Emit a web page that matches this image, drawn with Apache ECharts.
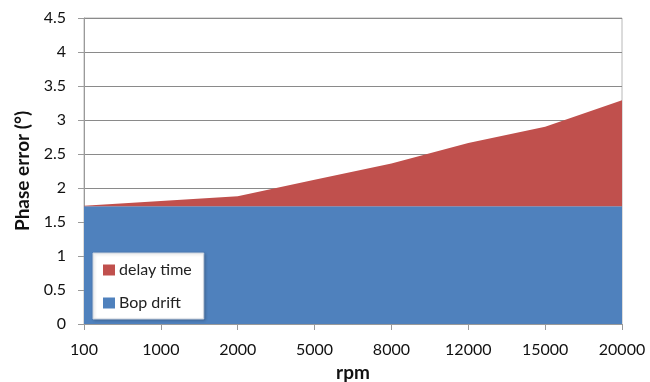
<!DOCTYPE html>
<html><head><meta charset="utf-8">
<script src="https://cdn.jsdelivr.net/npm/echarts@6/dist/echarts.min.js"></script>
<style>html,body{margin:0;padding:0;background:#fff}#c{width:650px;height:382px}</style>
</head><body><div id="c"></div>
<script>
const categories = ['100','1000','2000','5000','8000','12000','15000','20000'];
const bopDrift = [1.73,1.73,1.73,1.73,1.73,1.73,1.73,1.73];
const delayTime = [0.01,0.08,0.15,0.39,0.63,0.93,1.17,1.56];
const yTicks = {min:0, max:4.5, interval:0.5};
const font = 'Lato, "Open Sans", sans-serif';
const chart = echarts.init(document.getElementById('c'));
chart.setOption({
  animation:false,
  grid:{left:84,right:28,top:18,bottom:58,containLabel:false,outerBoundsMode:'none',show:true,borderColor:'#b8b8b8',borderWidth:1,backgroundColor:'transparent'},
  legend:{
    orient:'vertical',left:93,top:253,
    padding:[8,12,7,10],itemGap:15,itemWidth:12,itemHeight:11,
    backgroundColor:'#fff',borderColor:'#c8d0dc',borderWidth:1,
    shadowColor:'rgba(0,0,0,0.2)',shadowBlur:3,shadowOffsetX:1,shadowOffsetY:1,
    icon:'rect',
    textStyle:{fontFamily:font,fontSize:16,color:'#222',lineHeight:18,padding:[0,0,0,-1]},
    data:['delay time','Bop drift']
  },
  xAxis:{
    type:'category',data:categories,boundaryGap:false,
    name:'rpm',nameLocation:'middle',nameGap:38,
    nameTextStyle:{fontFamily:font,fontWeight:'bold',fontSize:19,color:'#111'},
    axisLine:{lineStyle:{color:'#9a9a9a',width:1}},
    axisTick:{show:true,alignWithLabel:true,length:6,lineStyle:{color:'#9a9a9a'}},
    axisLabel:{fontFamily:font,fontSize:16,color:'#111',margin:18},
    splitLine:{show:false}
  },
  yAxis:{
    type:'value',min:yTicks.min,max:yTicks.max,interval:yTicks.interval,
    name:'Phase error (°)',nameLocation:'middle',nameGap:49,nameRotate:90,
    nameTextStyle:{fontFamily:font,fontWeight:'bold',fontSize:19,color:'#111'},
    axisLine:{show:true,lineStyle:{color:'#9a9a9a',width:1}},
    axisTick:{show:true,length:6,lineStyle:{color:'#9a9a9a'}},
    axisLabel:{fontFamily:font,fontSize:16,color:'#111',margin:18},
    splitLine:{show:true,lineStyle:{color:'#8a8a8a',width:1}}
  },
  series:[
    {name:'Bop drift',type:'line',stack:'a',data:bopDrift,symbol:'none',
     lineStyle:{width:0},areaStyle:{color:'#4F81BD',opacity:1},itemStyle:{color:'#4F81BD'},z:2},
    {name:'delay time',type:'line',stack:'a',data:delayTime,symbol:'none',
     lineStyle:{width:0},areaStyle:{color:'#C0504D',opacity:1},itemStyle:{color:'#C0504D'},z:2}
  ]
});
</script></body></html>
